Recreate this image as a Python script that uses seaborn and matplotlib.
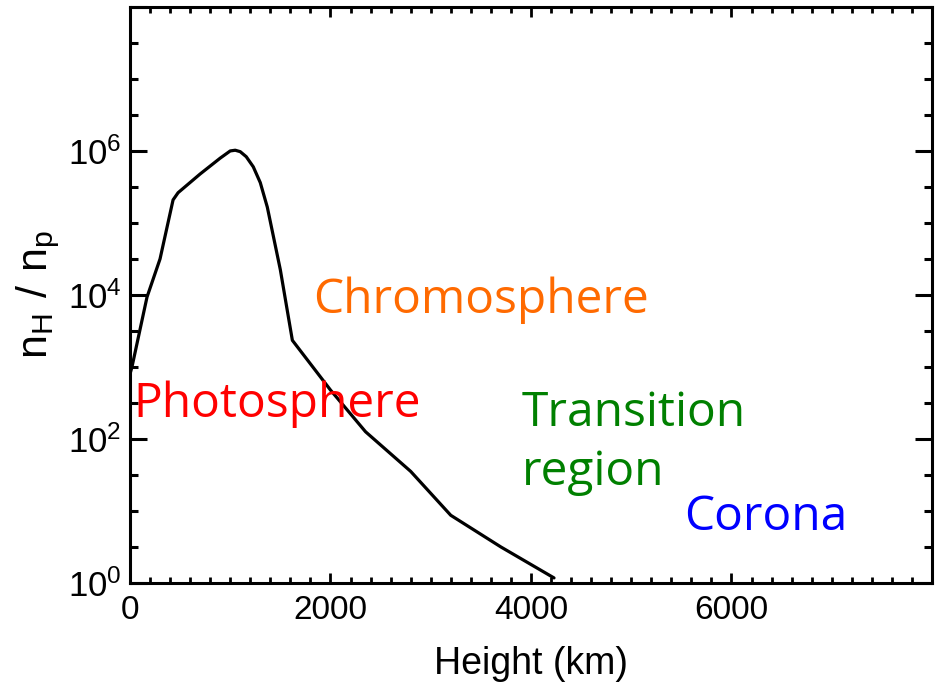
import numpy as np
import pandas as pd
import matplotlib
matplotlib.use("Agg")
import matplotlib.pyplot as plt
import matplotlib.ticker as mticker
import seaborn as sns

# Data
height_km = [0, 20, 170, 300, 430, 480, 700, 900, 1000, 1050, 1100, 1160, 1230, 1300,
             1370, 1500, 1620, 2000, 2350, 2800, 3200, 3700, 4230]
log_ratio = [2.9, 3.0, 3.97, 4.5, 5.32, 5.42, 5.68, 5.9, 6.0, 6.01, 5.99, 5.92, 5.78, 5.56,
             5.22, 4.35, 3.37, 2.68, 2.1, 1.55, 0.94, 0.5, 0.07]
ratio = [10 ** v for v in log_ratio]

region_labels = ["Photosphere", "Chromosphere", "Transition\nregion", "Corona"]
region_colors = ["#FF0000", "#FF6A00", "#008000", "#0000FF"]
region_x = [30, 1830, 3910, 5530]
region_y = [10 ** 2.48, 10 ** 3.93, 10 ** 1.95, 10 ** 0.91]

y_major = [1e0, 1e2, 1e4, 1e6]
y_major_labels = [r"$\mathregular{10^{0}}$", r"$\mathregular{10^{2}}$",
                  r"$\mathregular{10^{4}}$", r"$\mathregular{10^{6}}$"]
x_major = [0, 2000, 4000, 6000]

sns.set_style("ticks")
plt.rcParams["font.family"] = ["Liberation Sans", "DejaVu Sans"]
plt.rcParams["text.color"] = "black"
plt.rcParams["axes.labelcolor"] = "black"
plt.rcParams["xtick.color"] = "black"
plt.rcParams["ytick.color"] = "black"

fig = plt.figure(figsize=(9.39, 6.94), dpi=100)
ax = fig.add_axes([0.1384, 0.16, 0.8541, 0.83])

df = pd.DataFrame({"height": height_km, "ratio": ratio})
sns.lineplot(data=df, x="height", y="ratio", ax=ax, color="black", linewidth=2.3,
             sort=False, estimator=None)
ax.lines[0].set_solid_joinstyle("round")

ax.set_yscale("log")
ax.set_xlim(0, 8000)
ax.set_ylim(1e0, 1e8)

ax.yaxis.set_major_locator(mticker.FixedLocator(y_major + [1e8]))
ax.set_yticklabels(y_major_labels + [""])
ax.yaxis.set_minor_locator(mticker.FixedLocator([10 ** (k * 0.5) for k in range(17) if k % 4 != 0]))
ax.yaxis.set_minor_formatter(mticker.NullFormatter())
ax.set_xticks(x_major + [8000])
ax.set_xticklabels([str(v) for v in x_major] + [""])
ax.xaxis.set_minor_locator(mticker.MultipleLocator(200))

ax.tick_params(axis="y", which="major", direction="in", length=12, width=2.2,
               left=True, right=True, labelsize=25, pad=6, colors="black")
ax.tick_params(axis="y", which="minor", direction="in", length=6, width=2.2,
               left=True, right=True, colors="black")
ax.tick_params(axis="x", which="major", direction="in", length=7, width=2.0,
               bottom=True, top=True, labelsize=24, pad=9, colors="black")
ax.tick_params(axis="x", which="minor", direction="in", length=4, width=2.0,
               bottom=True, top=True, colors="black")

for s in ax.spines.values():
    s.set_visible(True)
    s.set_linewidth(2.2)
    s.set_color("black")

ax.set_xlabel("Height (km)", fontsize=27, labelpad=14, color="black")
ax.set_ylabel(r"$\mathregular{n_H\ /\ n_p}$", fontsize=31, labelpad=4, color="black")

for lab, col, xx, yy in zip(region_labels, region_colors, region_x, region_y):
    ax.text(xx, yy, lab, color=col, fontsize=34.5, family=["Open Sans", "DejaVu Sans"],
            ha="left", va="center", linespacing=1.3)

fig.savefig("out.png", dpi=100)
